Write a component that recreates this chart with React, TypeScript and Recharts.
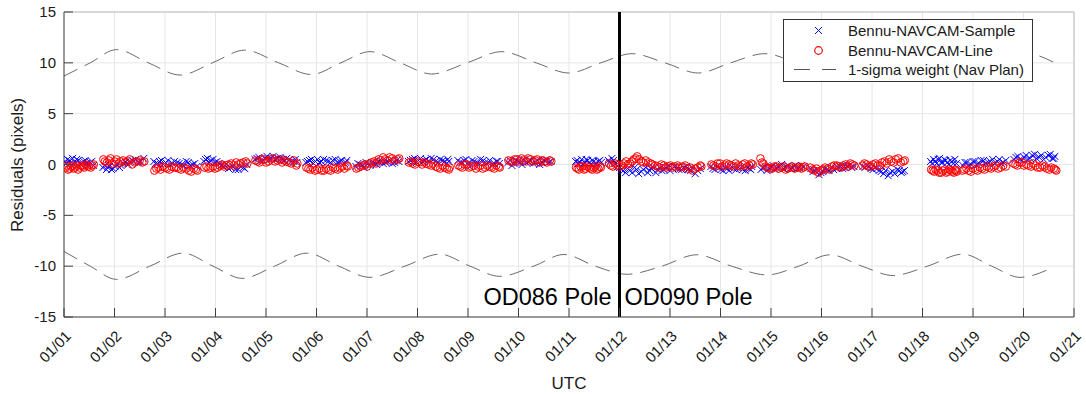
import React from 'react';
import {
  ComposedChart, Scatter, Line, XAxis, YAxis, CartesianGrid, ReferenceLine,
} from 'recharts';

// day offsets from 01/01 00:00 UTC
const dayLabels = [
  '01/01', '01/02', '01/03', '01/04', '01/05', '01/06', '01/07', '01/08', '01/09', '01/10', '01/11',
  '01/12', '01/13', '01/14', '01/15', '01/16', '01/17', '01/18', '01/19', '01/20', '01/21',
];
const dayTicks = dayLabels.map((_, i) => i);
const residualTicks = [-15, -10, -5, 0, 5, 10, 15];
const poleSwitchDay = 11;

// [day, residual px] for the sample direction
const sampleResiduals: [number, number][] = [
  [0.02, 0.3], [0.07, 0.5], [0.12, 0.1], [0.17, 0.6], [0.22, 0.2], [0.28, 0.4], [0.33, 0.0], [0.39, 0.3], [0.45, 0.1], [0.52, 0.2], [0.58, -0.1],
  [0.05, 0.1], [0.1, 0.4], [0.2, 0.0], [0.25, 0.5], [0.36, 0.2], [0.42, 0.4], [0.48, 0.0], [0.55, 0.3],
  [0.77, -0.3], [0.84, -0.5], [0.9, -0.2], [0.97, -0.4], [1.05, 0.0], [1.13, -0.1], [1.22, 0.2], [1.31, 0.3], [1.42, 0.5], [1.52, 0.3], [1.58, 0.6],
  [0.8, -0.1], [0.87, -0.3], [0.94, -0.5], [1.01, -0.2], [1.1, -0.3], [1.18, 0.1], [1.27, 0.0], [1.36, 0.4], [1.47, 0.2],
  [1.78, 0.3], [1.85, 0.1], [1.93, 0.4], [2.01, 0.2], [2.1, 0.0], [2.19, 0.3], [2.28, 0.1], [2.37, -0.1], [2.46, 0.2], [2.55, 0.0], [2.63, -0.2],
  [1.81, 0.1], [1.89, 0.3], [1.97, 0.0], [2.06, 0.4], [2.15, 0.1], [2.24, 0.2], [2.33, 0.0], [2.42, 0.3], [2.5, -0.1], [2.59, 0.1],
  [2.77, 0.3], [2.84, 0.6], [2.91, 0.4], [2.99, 0.2], [3.07, 0.1], [3.16, -0.2], [3.26, -0.4], [3.35, -0.2], [3.45, -0.5], [3.55, -0.3], [3.62, 0.0],
  [2.8, 0.5], [2.88, 0.2], [2.95, 0.5], [3.03, 0.3], [3.11, -0.1], [3.21, 0.0], [3.3, -0.3], [3.4, -0.5], [3.5, -0.2], [3.58, -0.4],
  [3.78, 0.5], [3.86, 0.7], [3.94, 0.4], [4.02, 0.8], [4.1, 0.6], [4.19, 0.5], [4.28, 0.7], [4.37, 0.4], [4.46, 0.5], [4.55, 0.3], [4.61, 0.2],
  [3.82, 0.6], [3.9, 0.4], [3.98, 0.6], [4.06, 0.5], [4.14, 0.8], [4.23, 0.6], [4.32, 0.5], [4.41, 0.6], [4.5, 0.3], [4.58, 0.5],
  [4.79, 0.2], [4.86, 0.4], [4.94, 0.1], [5.02, 0.5], [5.1, 0.3], [5.19, 0.4], [5.28, 0.2], [5.37, 0.5], [5.46, 0.3], [5.55, 0.1], [5.6, 0.4],
  [4.82, 0.3], [4.9, 0.5], [4.98, 0.3], [5.06, 0.2], [5.14, 0.5], [5.23, 0.3], [5.32, 0.4], [5.41, 0.2], [5.5, 0.4], [5.58, 0.2],
  [5.78, -0.2], [5.86, 0.0], [5.94, -0.3], [6.02, 0.1], [6.1, 0.2], [6.19, 0.0], [6.28, 0.3], [6.37, 0.2], [6.46, 0.4], [6.55, 0.2], [6.63, 0.3],
  [5.82, 0.1], [5.9, -0.1], [5.98, 0.2], [6.06, -0.1], [6.14, 0.1], [6.23, 0.3], [6.32, 0.1], [6.41, 0.3], [6.5, 0.1], [6.59, 0.4],
  [6.82, 0.3], [6.9, 0.5], [6.98, 0.2], [7.06, 0.6], [7.14, 0.4], [7.23, 0.3], [7.32, 0.5], [7.41, 0.2], [7.5, 0.4], [7.58, 0.1], [7.62, 0.3],
  [6.86, 0.4], [6.94, 0.6], [7.02, 0.4], [7.1, 0.3], [7.18, 0.5], [7.27, 0.6], [7.36, 0.3], [7.45, 0.5], [7.54, 0.3], [7.6, 0.5],
  [7.8, 0.4], [7.88, 0.2], [7.96, 0.5], [8.04, -0.2], [8.12, 0.3], [8.21, 0.1], [8.3, 0.4], [8.39, 0.2], [8.48, 0.0], [8.56, 0.3], [8.62, 0.1],
  [7.84, 0.2], [7.92, 0.4], [8.0, 0.1], [8.08, 0.4], [8.16, 0.2], [8.25, 0.5], [8.34, 0.2], [8.43, 0.4], [8.52, 0.1], [8.59, 0.3],
  [8.79, 0.2], [8.87, -0.1], [8.95, 0.4], [9.03, 0.2], [9.11, 0.5], [9.2, 0.3], [9.29, 0.1], [9.38, 0.4], [9.47, 0.2], [9.56, 0.5], [9.64, 0.3],
  [8.83, 0.4], [8.91, 0.1], [8.99, 0.3], [9.07, 0.0], [9.15, 0.2], [9.24, 0.4], [9.33, 0.2], [9.42, 0.0], [9.51, 0.4], [9.6, 0.2],
  [10.13, 0.3], [10.19, 0.1], [10.25, 0.5], [10.31, 0.2], [10.37, 0.4], [10.43, 0.0], [10.49, 0.3], [10.55, 0.1], [10.61, 0.4], [10.64, 0.2],
  [10.16, 0.4], [10.22, 0.2], [10.28, 0.0], [10.34, 0.5], [10.4, 0.2], [10.46, 0.4], [10.52, 0.1], [10.58, 0.3],
  [10.78, 0.4], [10.85, 0.6], [10.92, 0.1], [11.0, -0.3], [11.08, -0.6], [11.16, -0.4], [11.25, -0.8], [11.34, -0.5], [11.43, -0.7], [11.52, -0.3], [11.6, -0.6], [11.65, -0.2],
  [10.81, 0.2], [10.88, 0.4], [10.96, -0.2], [11.04, -0.5], [11.12, -0.8], [11.2, -0.6], [11.3, -0.3], [11.38, -0.9], [11.47, -0.5], [11.56, -0.8], [11.63, -0.4],
  [11.72, -0.8], [11.8, -0.3], [11.88, -0.5], [11.96, -0.2], [12.05, -0.4], [12.14, -0.3], [12.23, -0.5], [12.32, -0.2], [12.41, -0.6], [12.5, -0.9], [12.6, -0.4],
  [11.76, -0.5], [11.84, -0.6], [11.92, -0.3], [12.0, -0.6], [12.09, -0.2], [12.18, -0.5], [12.27, -0.3], [12.36, -0.5], [12.45, -0.3], [12.55, -0.6],
  [12.81, -0.2], [12.89, -0.5], [12.97, -0.3], [13.05, -0.6], [13.13, -0.4], [13.22, -0.2], [13.31, -0.5], [13.4, -0.3], [13.49, -0.6], [13.57, -0.4], [13.62, -0.2],
  [12.85, -0.4], [12.93, -0.2], [13.01, -0.5], [13.09, -0.3], [13.17, -0.6], [13.26, -0.4], [13.35, -0.3], [13.44, -0.5], [13.53, -0.3], [13.6, -0.5],
  [13.8, -0.5], [13.88, -0.2], [13.96, -0.4], [14.04, -0.1], [14.12, -0.3], [14.21, 0.0], [14.3, -0.2], [14.39, -0.4], [14.48, -0.1], [14.56, -0.3], [14.65, -0.2],
  [13.84, -0.3], [13.92, -0.6], [14.0, -0.3], [14.08, -0.5], [14.16, -0.2], [14.25, -0.4], [14.34, -0.1], [14.43, -0.3], [14.52, -0.4], [14.6, -0.1],
  [14.79, -0.4], [14.87, -0.6], [14.95, -1.0], [15.03, -0.7], [15.11, -0.5], [15.2, -0.3], [15.29, -0.4], [15.38, -0.2], [15.47, -0.3], [15.56, -0.1], [15.64, -0.2],
  [14.83, -0.7], [14.91, -0.5], [14.99, -0.8], [15.07, -0.4], [15.15, -0.6], [15.24, -0.5], [15.33, -0.3], [15.42, -0.4], [15.51, -0.2], [15.6, -0.3],
  [15.82, -0.2], [15.9, -0.1], [15.98, -0.4], [16.06, -0.3], [16.14, -0.6], [16.23, -0.9], [16.32, -1.1], [16.41, -0.7], [16.5, -0.5], [16.58, -0.8], [16.64, -0.6],
  [15.86, -0.3], [15.94, -0.2], [16.02, -0.5], [16.1, -0.4], [16.18, -0.7], [16.27, -0.6], [16.36, -0.8], [16.45, -0.9], [16.54, -0.6], [16.61, -0.7],
  [17.16, 0.3], [17.22, 0.5], [17.28, 0.1], [17.34, 0.6], [17.4, 0.2], [17.46, 0.4], [17.52, 0.0], [17.58, 0.3], [17.64, 0.5], [17.67, 0.1],
  [17.19, 0.1], [17.25, 0.3], [17.31, 0.5], [17.37, 0.2], [17.43, 0.5], [17.49, 0.2], [17.55, 0.4], [17.61, 0.1],
  [17.8, -0.1], [17.88, 0.2], [17.96, 0.0], [18.04, 0.3], [18.12, 0.1], [18.21, 0.4], [18.3, 0.2], [18.39, 0.5], [18.48, 0.3], [18.56, 0.1], [18.65, 0.4],
  [17.84, 0.2], [17.92, -0.1], [18.0, 0.3], [18.08, 0.0], [18.16, 0.4], [18.25, 0.1], [18.34, 0.3], [18.43, 0.1], [18.52, 0.5], [18.6, 0.2],
  [18.81, 0.5], [18.89, 0.8], [18.97, 0.4], [19.05, 0.9], [19.13, 0.6], [19.22, 1.0], [19.31, 0.7], [19.4, 0.5], [19.49, 0.9], [19.57, 0.6], [19.62, 0.8],
  [18.85, 0.7], [18.93, 0.5], [19.01, 0.7], [19.09, 0.5], [19.17, 0.9], [19.26, 0.6], [19.35, 0.9], [19.44, 0.7], [19.53, 1.0], [19.6, 0.6],
];

// [day, residual px] for the line direction
const lineResiduals: [number, number][] = [
  [0.03, -0.3], [0.08, -0.5], [0.14, -0.2], [0.19, -0.4], [0.25, -0.1], [0.31, -0.3], [0.37, -0.2], [0.43, 0.0], [0.49, -0.2], [0.56, -0.1],
  [0.05, -0.1], [0.11, -0.4], [0.17, -0.1], [0.22, -0.3], [0.28, -0.5], [0.34, -0.1], [0.4, -0.3], [0.46, -0.1], [0.53, -0.3], [0.59, 0.0],
  [0.78, 0.5], [0.85, 0.2], [0.92, 0.6], [1.0, 0.3], [1.08, 0.1], [1.17, 0.4], [1.26, 0.3], [1.35, 0.0], [1.45, 0.3], [1.55, 0.2],
  [0.81, 0.3], [0.89, 0.4], [0.96, 0.1], [1.04, 0.5], [1.12, 0.3], [1.21, 0.2], [1.3, 0.5], [1.4, 0.2], [1.5, 0.4], [1.59, 0.3],
  [1.79, -0.6], [1.87, -0.3], [1.95, -0.2], [2.04, -0.4], [2.13, -0.2], [2.22, -0.3], [2.32, -0.5], [2.42, -0.4], [2.52, -0.7], [2.61, -0.5],
  [1.83, -0.4], [1.91, -0.5], [2.0, -0.3], [2.09, -0.5], [2.18, -0.3], [2.27, -0.4], [2.37, -0.3], [2.47, -0.6], [2.57, -0.4], [2.64, -0.6],
  [2.78, -0.3], [2.86, -0.4], [2.95, -0.2], [3.04, -0.3], [3.13, 0.0], [3.22, -0.1], [3.31, 0.1], [3.41, 0.2], [3.5, 0.1], [3.6, 0.3],
  [2.82, -0.2], [2.9, -0.3], [2.99, -0.4], [3.08, -0.1], [3.17, -0.2], [3.26, 0.0], [3.36, -0.1], [3.45, 0.0], [3.55, 0.2], [3.63, 0.1],
  [3.79, 0.4], [3.87, 0.2], [3.96, 0.5], [4.05, 0.3], [4.14, 0.6], [4.23, 0.4], [4.32, 0.2], [4.41, 0.3], [4.5, 0.1], [4.6, -0.1],
  [3.83, 0.3], [3.91, 0.5], [4.0, 0.2], [4.09, 0.5], [4.18, 0.3], [4.27, 0.5], [4.36, 0.4], [4.45, 0.2], [4.55, 0.4], [4.62, 0.1],
  [4.8, -0.3], [4.88, -0.5], [4.97, -0.6], [5.06, -0.4], [5.15, -0.6], [5.24, -0.5], [5.33, -0.3], [5.42, -0.5], [5.51, -0.2], [5.6, -0.1],
  [4.84, -0.4], [4.92, -0.3], [5.01, -0.5], [5.1, -0.6], [5.19, -0.4], [5.28, -0.6], [5.37, -0.4], [5.46, -0.3], [5.55, -0.4], [5.62, -0.2],
  [5.79, -0.4], [5.87, -0.2], [5.96, 0.0], [6.05, 0.1], [6.14, 0.3], [6.23, 0.5], [6.32, 0.7], [6.41, 0.4], [6.5, 0.6], [6.61, 0.5],
  [5.83, -0.3], [5.91, -0.1], [6.0, -0.2], [6.09, 0.2], [6.18, 0.1], [6.27, 0.4], [6.36, 0.5], [6.45, 0.7], [6.55, 0.4], [6.64, 0.6],
  [6.83, 0.2], [6.91, 0.1], [7.0, 0.3], [7.09, 0.0], [7.18, 0.1], [7.27, -0.1], [7.36, -0.2], [7.45, -0.4], [7.54, -0.3], [7.62, -0.5],
  [6.87, 0.3], [6.95, 0.0], [7.04, 0.2], [7.13, 0.2], [7.22, 0.0], [7.31, 0.1], [7.4, -0.3], [7.49, -0.1], [7.58, -0.4], [7.64, -0.3],
  [7.81, -0.1], [7.89, -0.3], [7.98, 0.0], [8.07, -0.2], [8.16, -0.4], [8.25, -0.1], [8.34, -0.3], [8.43, -0.2], [8.52, -0.4], [8.61, -0.2],
  [7.85, -0.2], [7.93, 0.0], [8.02, -0.3], [8.11, -0.1], [8.2, -0.2], [8.29, -0.4], [8.38, -0.1], [8.47, -0.3], [8.56, -0.1], [8.63, -0.3],
  [8.8, 0.4], [8.88, 0.2], [8.97, 0.5], [9.06, 0.6], [9.15, 0.3], [9.24, 0.5], [9.33, 0.4], [9.42, 0.2], [9.51, 0.3], [9.62, 0.4],
  [8.84, 0.3], [8.92, 0.5], [9.01, 0.3], [9.1, 0.4], [9.19, 0.6], [9.28, 0.3], [9.37, 0.5], [9.46, 0.4], [9.56, 0.2], [9.65, 0.3],
  [10.14, -0.3], [10.2, -0.5], [10.27, -0.2], [10.33, -0.4], [10.4, -0.3], [10.46, -0.5], [10.52, -0.2], [10.58, -0.4], [10.63, -0.3],
  [10.17, -0.4], [10.23, -0.2], [10.3, -0.5], [10.36, -0.2], [10.43, -0.4], [10.49, -0.3], [10.55, -0.5], [10.61, -0.2],
  [10.79, 0.1], [10.87, -0.2], [10.96, 0.0], [11.05, -0.1], [11.13, 0.3], [11.21, 0.1], [11.28, 0.5], [11.35, 0.8], [11.43, 0.3], [11.52, 0.4], [11.62, 0.1],
  [10.83, -0.1], [10.91, 0.1], [11.0, -0.2], [11.09, 0.1], [11.17, 0.0], [11.25, 0.3], [11.32, 0.6], [11.39, 0.5], [11.47, 0.2], [11.57, 0.2], [11.65, 0.0],
  [11.71, -0.1], [11.79, -0.3], [11.88, -0.1], [11.97, -0.2], [12.06, -0.3], [12.15, -0.1], [12.25, -0.2], [12.35, -0.4], [12.45, -0.6], [12.55, -0.3], [12.62, -0.2],
  [11.75, -0.2], [11.83, 0.0], [11.92, -0.3], [12.01, -0.1], [12.1, -0.2], [12.2, -0.3], [12.3, -0.1], [12.4, -0.3], [12.5, -0.4], [12.6, -0.1],
  [12.82, 0.0], [12.9, -0.2], [12.99, 0.1], [13.08, -0.1], [13.17, 0.0], [13.26, -0.2], [13.35, -0.1], [13.44, 0.0], [13.53, -0.2], [13.61, 0.1],
  [12.86, -0.1], [12.94, 0.1], [13.03, -0.2], [13.12, 0.1], [13.21, -0.1], [13.3, 0.1], [13.39, -0.2], [13.48, 0.1], [13.57, -0.1], [13.64, 0.0],
  [13.79, 0.6], [13.85, 0.1], [13.93, -0.3], [14.02, -0.4], [14.11, -0.2], [14.2, -0.3], [14.29, -0.5], [14.38, -0.3], [14.47, -0.4], [14.56, -0.2], [14.64, -0.3],
  [13.82, 0.2], [13.89, -0.2], [13.97, -0.4], [14.06, -0.2], [14.15, -0.4], [14.24, -0.2], [14.33, -0.4], [14.42, -0.2], [14.51, -0.3], [14.6, -0.4], [14.67, -0.2],
  [14.78, -0.3], [14.86, -0.6], [14.94, -0.8], [15.03, -0.5], [15.12, -0.4], [15.21, -0.2], [15.3, -0.1], [15.39, -0.3], [15.48, 0.0], [15.57, 0.1], [15.65, -0.1],
  [14.82, -0.5], [14.9, -0.4], [14.98, -0.6], [15.07, -0.3], [15.16, -0.5], [15.25, -0.1], [15.34, -0.2], [15.43, -0.1], [15.52, -0.2], [15.61, 0.0],
  [15.81, -0.1], [15.89, 0.0], [15.98, -0.2], [16.07, 0.1], [16.16, -0.1], [16.25, 0.3], [16.34, 0.5], [16.43, 0.2], [16.52, 0.6], [16.62, 0.3],
  [15.85, 0.1], [15.93, -0.2], [16.02, 0.0], [16.11, -0.1], [16.2, 0.2], [16.29, 0.1], [16.38, 0.3], [16.47, 0.5], [16.57, 0.2], [16.65, 0.4],
  [17.17, -0.5], [17.23, -0.7], [17.3, -0.6], [17.37, -0.8], [17.44, -0.5], [17.5, -0.7], [17.56, -0.6], [17.62, -0.8], [17.66, -0.6],
  [17.2, -0.6], [17.26, -0.5], [17.33, -0.8], [17.4, -0.6], [17.47, -0.8], [17.53, -0.5], [17.59, -0.7], [17.65, -0.5], [17.68, -0.7],
  [17.79, -0.6], [17.87, -0.4], [17.96, -0.7], [18.05, -0.5], [18.14, -0.3], [18.23, -0.5], [18.32, -0.3], [18.41, -0.2], [18.5, -0.4], [18.6, -0.1],
  [17.83, -0.5], [17.91, -0.6], [18.0, -0.4], [18.09, -0.6], [18.18, -0.4], [18.27, -0.2], [18.36, -0.4], [18.45, -0.1], [18.55, -0.3], [18.65, -0.2],
  [18.8, 0.1], [18.88, -0.1], [18.97, 0.2], [19.06, 0.0], [19.15, -0.2], [19.24, -0.1], [19.33, -0.3], [19.42, -0.2], [19.51, -0.5], [19.6, -0.4], [19.65, -0.6],
  [18.84, 0.0], [18.92, 0.2], [19.01, -0.1], [19.1, -0.1], [19.19, 0.1], [19.28, -0.3], [19.37, -0.1], [19.46, -0.4], [19.55, -0.3], [19.63, -0.5],
];

// 1-sigma weight envelope (Nav Plan), upper and lower
const sigmaUpper: [number, number][] = [
  [0.0, 8.7], [0.52, 10.0], [1.04, 11.3], [1.67, 10.0], [2.3, 8.8], [2.94, 10.0], [3.58, 11.25], [4.25, 10.0],
  [4.9, 8.85], [5.48, 10.0], [6.06, 11.1], [6.66, 10.0], [7.28, 8.9], [7.98, 10.0], [8.67, 11.1], [9.35, 10.0],
  [10.0, 9.0], [10.63, 10.0], [11.25, 10.9], [11.9, 10.0], [12.56, 9.0], [13.2, 10.0], [13.88, 10.9], [14.52, 10.0],
  [15.17, 9.1], [15.8, 10.0], [16.42, 10.9], [17.1, 10.0], [17.8, 9.1], [18.37, 10.0], [19.0, 11.0], [19.6, 10.05],
];
const sigmaLower: [number, number][] = [
  [0.0, -8.55], [0.52, -10.0], [1.04, -11.3], [1.7, -10.0], [2.36, -8.72], [2.95, -10.0], [3.53, -11.2], [4.17, -10.0],
  [4.81, -8.72], [5.44, -10.0], [6.06, -11.1], [6.75, -10.0], [7.44, -8.82], [8.04, -10.0], [8.63, -11.0], [9.3, -10.0],
  [9.9, -8.85], [10.52, -10.0], [11.15, -10.8], [11.84, -10.0], [12.53, -8.88], [13.22, -10.0], [13.92, -10.86], [14.55, -10.0],
  [15.17, -8.88], [15.8, -10.0], [16.42, -10.92], [17.1, -10.0], [17.8, -8.82], [18.37, -10.0], [18.93, -11.1], [19.55, -10.2],
];

const toRows = (pts: [number, number][]) => pts.map(([t, v]) => ({ t, v }));

const FONT = '"Liberation Sans", Arial, Helvetica, sans-serif';
const AXIS = '#404040';

const Cross = (props: any) => {
  const { cx, cy } = props;
  const s = 3.5;
  return (
    <g stroke="#0000ff" strokeWidth={1}>
      <line x1={cx - s} y1={cy - s} x2={cx + s} y2={cy + s} />
      <line x1={cx - s} y1={cy + s} x2={cx + s} y2={cy - s} />
    </g>
  );
};

const Ring = (props: any) => {
  const { cx, cy } = props;
  return <circle cx={cx} cy={cy} r={3.8} fill="none" stroke="#ff0000" strokeWidth={1} />;
};

const DayTick = (props: any) => {
  const { x, y, payload } = props;
  return (
    <g>
      <line x1={x} y1={y} x2={x} y2={y - 9} stroke={AXIS} />
      <text
        x={x + 8}
        y={y + 20}
        transform={`rotate(-45, ${x + 8}, ${y + 20})`}
        textAnchor="end"
        fontSize={15}
        fontFamily={FONT}
        fill="#1a1a1a"
      >
        {dayLabels[payload.value]}
      </text>
    </g>
  );
};

const ResidualTick = (props: any) => {
  const { x, y, payload } = props;
  return (
    <g>
      <line x1={x} y1={y} x2={x + 9} y2={y} stroke={AXIS} />
      <text x={x - 8} y={y + 5} textAnchor="end" fontSize={15} fontFamily={FONT} fill="#1a1a1a">
        {payload.value}
      </text>
    </g>
  );
};

const PoleLabels = (props: any) => {
  const { viewBox } = props;
  const x = viewBox.x;
  const y = viewBox.y + viewBox.height - 12;
  return (
    <g fontFamily={FONT} fontSize={23.5} fill="#000">
      <text x={x - 8} y={y} textAnchor="end">OD086 Pole</text>
      <text x={x + 5} y={y} textAnchor="start">OD090 Pole</text>
    </g>
  );
};

const legendRow: React.CSSProperties = {
  display: 'flex', alignItems: 'center', height: 19.5,
};

const ChartLegend = () => (
  <div
    style={{
      position: 'absolute', left: 783, top: 19, width: 248, height: 60,
      border: '1px solid #333', background: '#fff', fontFamily: FONT, fontSize: 15,
      color: '#1a1a1a', paddingTop: 1, boxSizing: 'content-box',
    }}
  >
    <div style={legendRow}>
      <svg width={64} height={19}>
        <g stroke="#0000ff" strokeWidth={1}>
          <line x1={31} y1={6} x2={38} y2={13} />
          <line x1={31} y1={13} x2={38} y2={6} />
        </g>
      </svg>
      <span>Bennu-NAVCAM-Sample</span>
    </div>
    <div style={legendRow}>
      <svg width={64} height={19}>
        <circle cx={34.5} cy={9.5} r={3.8} fill="none" stroke="#ff0000" strokeWidth={1.2} />
      </svg>
      <span>Bennu-NAVCAM-Line</span>
    </div>
    <div style={legendRow}>
      <svg width={64} height={19}>
        <line x1={10} y1={9.5} x2={52} y2={9.5} stroke="#555" strokeWidth={1} strokeDasharray="16 12" />
      </svg>
      <span>1-sigma weight (Nav Plan)</span>
    </div>
  </div>
);

export default function App() {
  return (
    <div style={{ position: 'relative', width: 1086, height: 394, background: '#fff' }}>
      <style>{'body{margin:0}'}</style>
      <ComposedChart width={1086} height={394} margin={{ top: 12, right: 12, bottom: 0, left: 0 }}>
        <CartesianGrid stroke="#e6e6e6" />
        <XAxis
          type="number"
          dataKey="t"
          domain={[0, 20]}
          ticks={dayTicks}
          interval={0}
          height={77}
          tickSize={0}
          tickMargin={0}
          tick={<DayTick />}
          axisLine={{ stroke: AXIS }}
          allowDataOverflow
        />
        <YAxis
          type="number"
          dataKey="v"
          domain={[-15, 15]}
          ticks={residualTicks}
          width={64}
          tickSize={0}
          tickMargin={0}
          tick={<ResidualTick />}
          axisLine={{ stroke: AXIS }}
          allowDataOverflow
        />
        <ReferenceLine y={15} stroke="#bdbdbd" />
        <ReferenceLine x={20} stroke="#bdbdbd" />
        <Line
          data={toRows(sigmaUpper)}
          dataKey="v"
          type="monotone"
          stroke="#5a5a5a"
          strokeWidth={0.9}
          strokeDasharray="15 8"
          dot={false}
          isAnimationActive={false}
        />
        <Line
          data={toRows(sigmaLower)}
          dataKey="v"
          type="monotone"
          stroke="#5a5a5a"
          strokeWidth={0.9}
          strokeDasharray="15 8"
          dot={false}
          isAnimationActive={false}
        />
        <Scatter data={toRows(sampleResiduals)} dataKey="v" shape={<Cross />} isAnimationActive={false} />
        <Scatter data={toRows(lineResiduals)} dataKey="v" shape={<Ring />} isAnimationActive={false} />
        <ReferenceLine x={poleSwitchDay} stroke="#000" strokeWidth={3} label={<PoleLabels />} />
      </ComposedChart>
      <svg width={1086} height={394} style={{ position: 'absolute', left: 0, top: 0, pointerEvents: 'none' }}>
        <text
          x={23}
          y={165}
          transform="rotate(-90, 23, 165)"
          textAnchor="middle"
          fontSize={17}
          fontFamily={FONT}
          fill="#1a1a1a"
        >
          Residuals (pixels)
        </text>
        <text x={569} y={389} textAnchor="middle" fontSize={17} fontFamily={FONT} fill="#1a1a1a">UTC</text>
      </svg>
      <ChartLegend />
    </div>
  );
}
